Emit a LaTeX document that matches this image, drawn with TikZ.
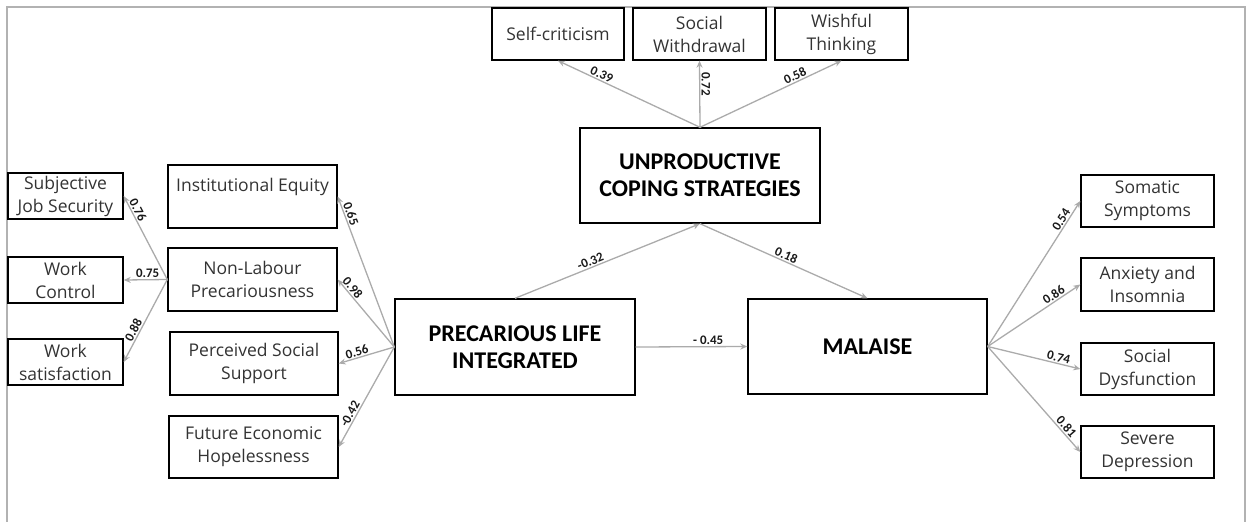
\documentclass[tikz,border=0pt]{standalone}
\usepackage{fontspec}
\setmainfont{Open Sans}
\newfontfamily\titlefont{Carlito}
\newfontfamily\labelfont{Carlito}
\usetikzlibrary{arrows.meta,positioning}

% loading arrow: from, to, pos, value
\newcommand{\loading}[4]{
\draw[link] (#1) -- node[lab,pos=#3] {#4} (#2);
}

\begin{document}
\begin{tikzpicture}[x=1pt,y=-1pt,
  box/.style={draw=black,line width=1.4pt,align=center,inner sep=2pt,text=black!80,
    font=\fontsize{17.5}{23}\selectfont},
  bigbox/.style={box,text=black,font=\titlefont\bfseries\fontsize{24}{27}\selectfont},
  link/.style={draw=black!33,line width=1.3pt,-{Stealth[length=7pt,width=6pt]}},
  lab/.style={sloped,above,inner sep=1.2pt,text=black!90,
    font=\labelfont\bfseries\fontsize{13}{13}\selectfont}]
\useasboundingbox (0,0) rectangle (1253,522);
\draw[black!30,line width=2pt] (7,522) -- (7,7) -- (1245,7) -- (1245,522);

% coping strategies
\node[box,minimum width=132pt,minimum height=52pt] (selfc) at (558,34) {Self-criticism};
\node[box,minimum width=133pt,minimum height=52pt] (socw) at (699.5,34) {Social\\Withdrawal};
\node[box,minimum width=133pt,minimum height=52pt] (wish) at (841.5,34) {Wishful\\Thinking};
\node[bigbox,minimum width=240pt,minimum height=95pt] (ucs) at (700,175.5) {UNPRODUCTIVE\\COPING STRATEGIES};

% main constructs
\node[bigbox,minimum width=240pt,minimum height=96pt] (pli) at (515,347) {PRECARIOUS LIFE\\INTEGRATED};
\node[bigbox,minimum width=239pt,minimum height=95pt] (mal) at (867.5,346.5) {MALAISE};

% malaise indicators
\node[box,minimum width=133pt,minimum height=52pt] (soma) at (1147.5,201) {Somatic\\Symptoms};
\node[box,minimum width=133pt,minimum height=53pt] (anx) at (1147.5,284.5) {Anxiety and\\Insomnia};
\node[box,minimum width=133pt,minimum height=52pt] (sdys) at (1147.5,369) {Social\\Dysfunction};
\node[box,minimum width=133pt,minimum height=52pt] (sdep) at (1147.5,452) {Severe\\Depression};

% precarious life dimensions
\node[box,minimum width=169pt,minimum height=63pt] (ieq) at (252.5,196.5) {Institutional Equity\\\phantom{X}};
\node[box,minimum width=169pt,minimum height=63pt] (nlp) at (252.5,279.5) {Non-Labour\\Precariousness};
\node[box,minimum width=168pt,minimum height=63pt] (pss) at (254,363.5) {Perceived Social\\Support};
\node[box,minimum width=169pt,minimum height=62pt] (feh) at (253.5,447) {Future Economic\\Hopelessness};

% non-labour indicators
\node[box,minimum width=115pt,minimum height=46pt] (sjs) at (65.5,196) {Subjective\\Job Security};
\node[box,minimum width=115pt,minimum height=46pt] (wc) at (65.5,280) {Work\\Control};
\node[box,minimum width=115pt,minimum height=46pt] (ws) at (65.5,362) {Work\\satisfaction};

% paths
\loading{ucs.north}{selfc.south}{0.71}{0.39}
\draw[link] (ucs.north) -- node[pos=0.65,rotate=-90,anchor=south,inner sep=1.2pt,text=black!90,
  font=\labelfont\bfseries\fontsize{13}{13}\selectfont] {0.72} (socw.south);
\loading{ucs.north}{wish.south}{0.69}{0.58}
\loading{pli.north}{ucs.south}{0.42}{-0.32}
\loading{ucs.south}{mal.north}{0.5}{0.18}
\loading{pli.east}{mal.west}{0.65}{- 0.45}

\loading{mal.east}{soma.west}{0.85}{0.54}
\loading{mal.east}{anx.west}{0.75}{0.86}
\loading{mal.east}{sdys.west}{0.75}{0.74}
\loading{mal.east}{sdep.west}{0.8}{0.81}

\loading{pli.west}{ieq.east}{0.87}{0.65}
\loading{pli.west}{nlp.east}{0.82}{0.98}
\loading{pli.west}{pss.east}{0.64}{0.56}
\loading{pli.west}{feh.east}{0.7}{-0.42}

\loading{nlp.west}{sjs.east}{0.8}{0.76}
\loading{nlp.west}{wc.east}{0.45}{0.75}
\loading{nlp.west}{ws.east}{0.65}{0.88}
\end{tikzpicture}
\end{document}
